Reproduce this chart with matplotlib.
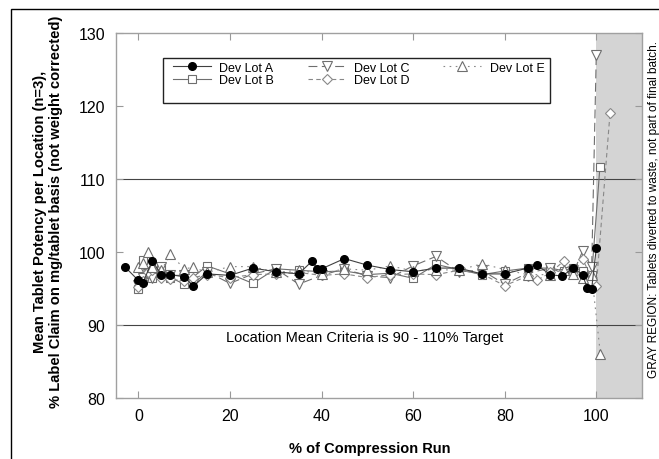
import matplotlib
matplotlib.use('Agg')
import matplotlib.pyplot as plt
from matplotlib.patches import Rectangle

plt.rcParams['font.family'] = ['Liberation Sans', 'DejaVu Sans']

# mean potency per location, % label claim
x_a = [-3, 0, 1, 3, 5, 7, 10, 12, 15, 20, 25, 30, 35, 38, 39, 40, 45, 50, 55, 60,
       65, 70, 75, 80, 85, 87, 90, 92.5, 95, 97, 98, 99, 100]
y_a = [98.0, 96.1, 95.8, 98.8, 96.9, 96.9, 96.6, 95.3, 97.0, 96.8, 97.8, 97.3, 97.0, 98.8, 97.7, 97.7,
       99.1, 98.2, 97.6, 97.3, 97.8, 97.8, 97.0, 97.0, 97.8, 98.2, 96.9, 96.7, 97.8, 96.9, 95.1, 95.0, 100.5]

x_b = [0, 1, 2, 3, 5, 7, 10, 15, 20, 25, 30, 35, 40, 45, 50, 55, 60, 65, 70, 75,
       80, 85, 90, 93, 95, 97, 99, 100.8]
y_b = [94.9, 98.9, 97.0, 96.5, 97.9, 96.5, 95.6, 98.1, 97.0, 95.7, 97.7, 97.5, 97.3, 97.4, 96.9, 97.1,
       96.4, 98.3, 97.6, 96.9, 97.4, 97.8, 97.8, 97.4, 97.8, 97.4, 96.9, 111.7]

x_c = [0, 1, 2, 3, 5, 7, 10, 12, 15, 20, 25, 30, 35, 40, 45, 50, 55, 60, 65, 70,
       75, 80, 85, 90, 93, 95, 97, 99, 100]
y_c = [95.5, 96.5, 97.0, 96.4, 98.0, 96.8, 96.8, 95.6, 97.3, 95.7, 97.0, 97.7, 95.6, 96.8, 97.7, 96.7,
       96.5, 98.1, 99.4, 97.3, 97.5, 95.6, 97.1, 97.8, 97.0, 97.2, 100.1, 98.0, 127.0]

x_d = [0, 1, 2, 3, 5, 7, 10, 12, 15, 20, 25, 30, 35, 40, 45, 50, 55, 60, 65, 70,
       75, 80, 85, 87, 90, 93, 95, 97, 100, 103]
y_d = [95.2, 96.0, 97.3, 97.5, 96.5, 96.3, 96.0, 96.5, 96.9, 96.5, 96.9, 97.0, 97.2, 96.8, 97.0, 96.5,
       96.9, 97.0, 96.9, 97.5, 97.0, 95.4, 96.7, 96.1, 97.2, 98.8, 97.0, 99.0, 95.3, 119.0]

x_e = [0, 1, 2, 3, 5, 7, 10, 12, 15, 20, 25, 30, 35, 40, 45, 50, 55, 60, 65, 70,
       75, 80, 85, 90, 93, 95, 97, 99, 100.9]
y_e = [97.9, 98.5, 100.0, 98.0, 97.5, 99.7, 97.7, 97.9, 97.2, 98.0, 98.0, 97.2, 97.5, 97.0, 97.7, 97.5,
       98.1, 97.4, 97.6, 97.5, 98.4, 97.6, 96.9, 96.9, 97.5, 97.0, 96.5, 96.9, 86.0]

fig = plt.figure(figsize=(6.59, 4.60), dpi=100)
ax = fig.add_axes([0.1753, 0.1326, 0.799, 0.7934])

ax.axvspan(100, 110, color='#d4d4d4', zorder=0, lw=0)
ax.axhline(90, color='#444444', lw=0.8, zorder=1)
ax.axhline(110, color='#444444', lw=0.8, zorder=1)

lc = '#6e6e6e'
ax.plot(x_a, y_a, '-', color='#404040', lw=0.8, marker='o', ms=5.5, mfc='black', mec='black',
        label='Dev Lot A', zorder=5)
ax.plot(x_b, y_b, '-', color=lc, lw=0.8, marker='s', ms=5.5, mfc='white', mec=lc, mew=0.8,
        label='Dev Lot B', zorder=3)
ax.plot(x_c, y_c, color=lc, lw=0.8, dashes=(8, 4), marker='v', ms=6.5, mfc='white', mec=lc, mew=0.8,
        label='Dev Lot C', zorder=3)
ax.plot(x_d, y_d, color='#888888', lw=0.8, dashes=(4, 3), marker='D', ms=4.8, mfc='white', mec='#888888',
        mew=0.8, label='Dev Lot D', zorder=3)
ax.plot(x_e, y_e, color='#888888', lw=0.8, dashes=(1.5, 4), marker='^', ms=6.5, mfc='white', mec=lc,
        mew=0.8, label='Dev Lot E', zorder=4)

ax.set_xlim(-5, 110)
ax.set_ylim(80, 130)
ax.set_xticks([0, 20, 40, 60, 80, 100])
ax.set_yticks([80, 90, 100, 110, 120, 130])
ax.tick_params(direction='in', length=5, color='#999999', labelsize=11.5,
               top=True, right=True, pad=7.5)
ax.tick_params(axis='y', pad=7.5)
for s in ax.spines.values():
    s.set_color('#a0a0a0')
    s.set_linewidth(1)

ax.set_xlabel('% of Compression Run', fontsize=10.5, fontweight='bold')
ax.xaxis.set_label_coords(0.482, -0.118)
ax.set_ylabel('Mean Tablet Potency per Location (n=3),\n% Label Claim on mg/tablet basis (not weight corrected)',
              fontsize=10.6, fontweight='bold', linespacing=1.2)
ax.yaxis.set_label_coords(-0.10, 0.512)

ax.text(49.5, 88.4, 'Location Mean Criteria is 90 - 110% Target', fontsize=10.5,
        ha='center', va='center')

fig.text(0.9924, 0.5446, 'GRAY REGION: Tablets diverted to waste, not part of final batch.',
         rotation=90, fontsize=8.5, ha='center', va='center')

# legend entries without frame, box drawn separately
leg = ax.legend(ncol=3, loc='upper left', bbox_to_anchor=(0.1092, 0.921), fontsize=9,
                frameon=False, handlelength=3.0, handletextpad=0.7, columnspacing=2.7,
                borderpad=0, labelspacing=0.05, borderaxespad=0)
ax.add_patch(Rectangle((0.0902, 0.808), 0.735, 0.1233, transform=ax.transAxes,
                       fill=False, edgecolor='#222222', lw=1.0, zorder=6))

fig.patches.append(Rectangle((11 / 659, -0.5), 2, 0.978 + 0.5, transform=fig.transFigure,
                             fill=False, edgecolor='black', lw=1.0))

fig.savefig('out.png', dpi=100)
